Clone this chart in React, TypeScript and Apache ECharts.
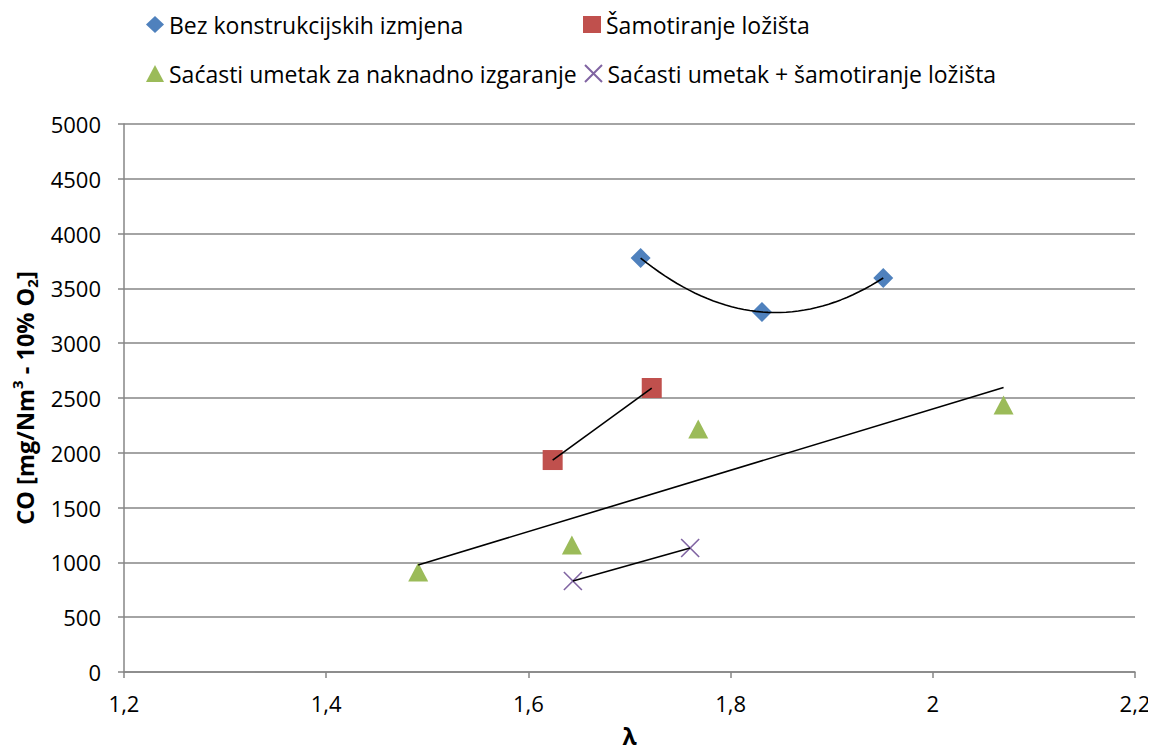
import React, { useEffect, useRef } from 'react';
import * as echarts from 'echarts';

const seriesNames = [
  'Bez konstrukcijskih izmjena',
  'Šamotiranje ložišta',
  'Saćasti umetak za naknadno izgaranje',
  'Saćasti umetak + šamotiranje ložišta',
];
const colors = ['#4F81BD', '#C0504D', '#9BBB59', '#8064A2'];

// λ values and CO values per series
const bezX = [1.711, 1.831, 1.951];
const bezY = [3777, 3285, 3595];
const samX = [1.624, 1.722];
const samY = [1934, 2591];
const sacX = [1.491, 1.643, 1.768, 2.07];
const sacY = [912, 1159, 2217, 2436];
const kombX = [1.644, 1.76];
const kombY = [830, 1131];

const xMin = 1.2;
const xMax = 2.2;
const xStep = 0.2;
const yMin = 0;
const yMax = 5000;
const yStep = 500;

const zip = (xs: number[], ys: number[]) => xs.map((x, i) => [x, ys[i]]);

// linear least-squares trend line over the data range
function linearTrend(xs: number[], ys: number[]) {
  const n = xs.length;
  const mx = xs.reduce((a, b) => a + b, 0) / n;
  const my = ys.reduce((a, b) => a + b, 0) / n;
  let sxy = 0;
  let sxx = 0;
  for (let i = 0; i < n; i++) {
    sxy += (xs[i] - mx) * (ys[i] - my);
    sxx += (xs[i] - mx) * (xs[i] - mx);
  }
  const k = sxy / sxx;
  const lo = Math.min(...xs);
  const hi = Math.max(...xs);
  return [
    [lo, my + k * (lo - mx)],
    [hi, my + k * (hi - mx)],
  ];
}

// 2nd-order polynomial trend through three points (Lagrange form)
function quadTrend(xs: number[], ys: number[], steps: number) {
  const [x0, x1, x2] = xs;
  const [y0, y1, y2] = ys;
  const f = (x: number) =>
    (y0 * (x - x1) * (x - x2)) / ((x0 - x1) * (x0 - x2)) +
    (y1 * (x - x0) * (x - x2)) / ((x1 - x0) * (x1 - x2)) +
    (y2 * (x - x0) * (x - x1)) / ((x2 - x0) * (x2 - x1));
  const lo = Math.min(...xs);
  const hi = Math.max(...xs);
  const out: number[][] = [];
  for (let i = 0; i <= steps; i++) {
    const x = lo + ((hi - lo) * i) / steps;
    out.push([x, f(x)]);
  }
  return out;
}

const FONT = '"Open Sans", "Noto Sans", sans-serif';
const xIcon = 'path://M0,0L10,10M10,0L0,10';

export default function App() {
  const ref = useRef<HTMLDivElement>(null);

  useEffect(() => {
    if (!ref.current) return;
    const chart = echarts.init(ref.current, undefined, { renderer: 'svg' });

    const trendStyle = {
      type: 'line' as const,
      showSymbol: false,
      symbol: 'none',
      lineStyle: { color: '#000', width: 1.6 },
      itemStyle: { color: '#000' },
      z: 5,
      silent: true,
      legendHoverLink: false,
    };

    const legendBase = {
      itemWidth: 18,
      itemHeight: 17,
      itemGap: 0,
      padding: 0,
      textStyle: { fontFamily: FONT, fontSize: 23, color: '#000', padding: [0, 0, 0, 0] },
    };

    chart.setOption({
      animation: false,
      backgroundColor: '#fff',
      textStyle: { fontFamily: FONT },
      legend: [
        { ...legendBase, left: 146, top: 13, data: [{ name: seriesNames[0], icon: 'diamond' }] },
        { ...legendBase, left: 583, top: 13, data: [{ name: seriesNames[1], icon: 'rect' }] },
        { ...legendBase, left: 146, top: 62, data: [{ name: seriesNames[2], icon: 'triangle' }] },
        { ...legendBase, left: 584, top: 62, data: [{ name: seriesNames[3] }] },
      ],
      grid: {
        left: 124,
        right: 21,
        top: 124,
        bottom: 83,
        containLabel: false,
        outerBoundsMode: 'none',
      },
      xAxis: {
        type: 'value',
        min: xMin,
        max: xMax,
        interval: xStep,
        name: 'λ',
        nameLocation: 'middle',
        nameGap: 52,
        nameTextStyle: { fontFamily: FONT, fontSize: 23, fontWeight: 'bold', color: '#000' },
        axisLine: { show: true, lineStyle: { color: '#868686', width: 1.5 } },
        axisTick: { show: true, length: 6, lineStyle: { color: '#868686', width: 1.5 } },
        axisLabel: {
          margin: 20,
          fontFamily: FONT,
          fontSize: 22,
          color: '#000',
          formatter: (v: number) => String(Math.round(v * 10) / 10).replace('.', ','),
        },
        splitLine: { show: false },
      },
      yAxis: {
        type: 'value',
        min: yMin,
        max: yMax,
        interval: yStep,
        name: '{a|CO [mg/Nm}{sup|3}{a| - 10% O}{sub|2}{a|]}',
        nameLocation: 'middle',
        nameRotate: 90,
        nameGap: 83,
        nameTextStyle: {
          fontFamily: FONT,
          fontSize: 23.5,
          fontWeight: 'bold',
          color: '#000',
          rich: {
            a: { fontFamily: FONT, fontSize: 23.5, fontWeight: 'bold', color: '#000', lineHeight: 30, verticalAlign: 'middle' },
            sup: { fontFamily: FONT, fontSize: 15, fontWeight: 'bold', color: '#000', verticalAlign: 'top', lineHeight: 30, padding: [0, 0, 8, 0] },
            sub: { fontFamily: FONT, fontSize: 15, fontWeight: 'bold', color: '#000', verticalAlign: 'bottom', lineHeight: 30, padding: [8, 0, 0, 0] },
          },
        },
        axisLine: { show: true, lineStyle: { color: '#868686', width: 1.5 } },
        axisTick: { show: true, length: 6, lineStyle: { color: '#868686', width: 1.5 } },
        axisLabel: {
          margin: 23,
          fontFamily: FONT,
          fontSize: 22,
          color: '#000',
          formatter: (v: number) => String(v),
        },
        splitLine: { show: true, lineStyle: { color: '#868686', width: 1.5 } },
      },
      series: [
        {
          name: seriesNames[0],
          type: 'scatter',
          symbol: 'diamond',
          symbolSize: 20,
          itemStyle: { color: colors[0], opacity: 1 },
          data: zip(bezX, bezY),
          z: 3,
        },
        {
          name: seriesNames[1],
          type: 'scatter',
          symbol: 'rect',
          symbolSize: 20,
          itemStyle: { color: colors[1], opacity: 1 },
          data: zip(samX, samY),
          z: 3,
        },
        {
          name: seriesNames[2],
          type: 'scatter',
          symbol: 'triangle',
          symbolSize: [20, 19],
          itemStyle: { color: colors[2], opacity: 1 },
          data: zip(sacX, sacY),
          z: 3,
        },
        {
          name: seriesNames[3],
          type: 'scatter',
          symbol: xIcon,
          symbolSize: 18,
          itemStyle: { color: 'transparent', borderColor: colors[3], borderWidth: 1.6, opacity: 1 },
          data: zip(kombX, kombY),
          z: 3,
        },
        { ...trendStyle, name: 't0', data: quadTrend(bezX, bezY, 40), smooth: false },
        { ...trendStyle, name: 't1', data: linearTrend(samX, samY) },
        { ...trendStyle, name: 't2', data: linearTrend(sacX, sacY) },
        { ...trendStyle, name: 't3', data: linearTrend(kombX, kombY) },
      ],
    });

    return () => chart.dispose();
  }, []);

  return <div ref={ref} style={{ width: 1156, height: 755, margin: -8 }} />;
}
